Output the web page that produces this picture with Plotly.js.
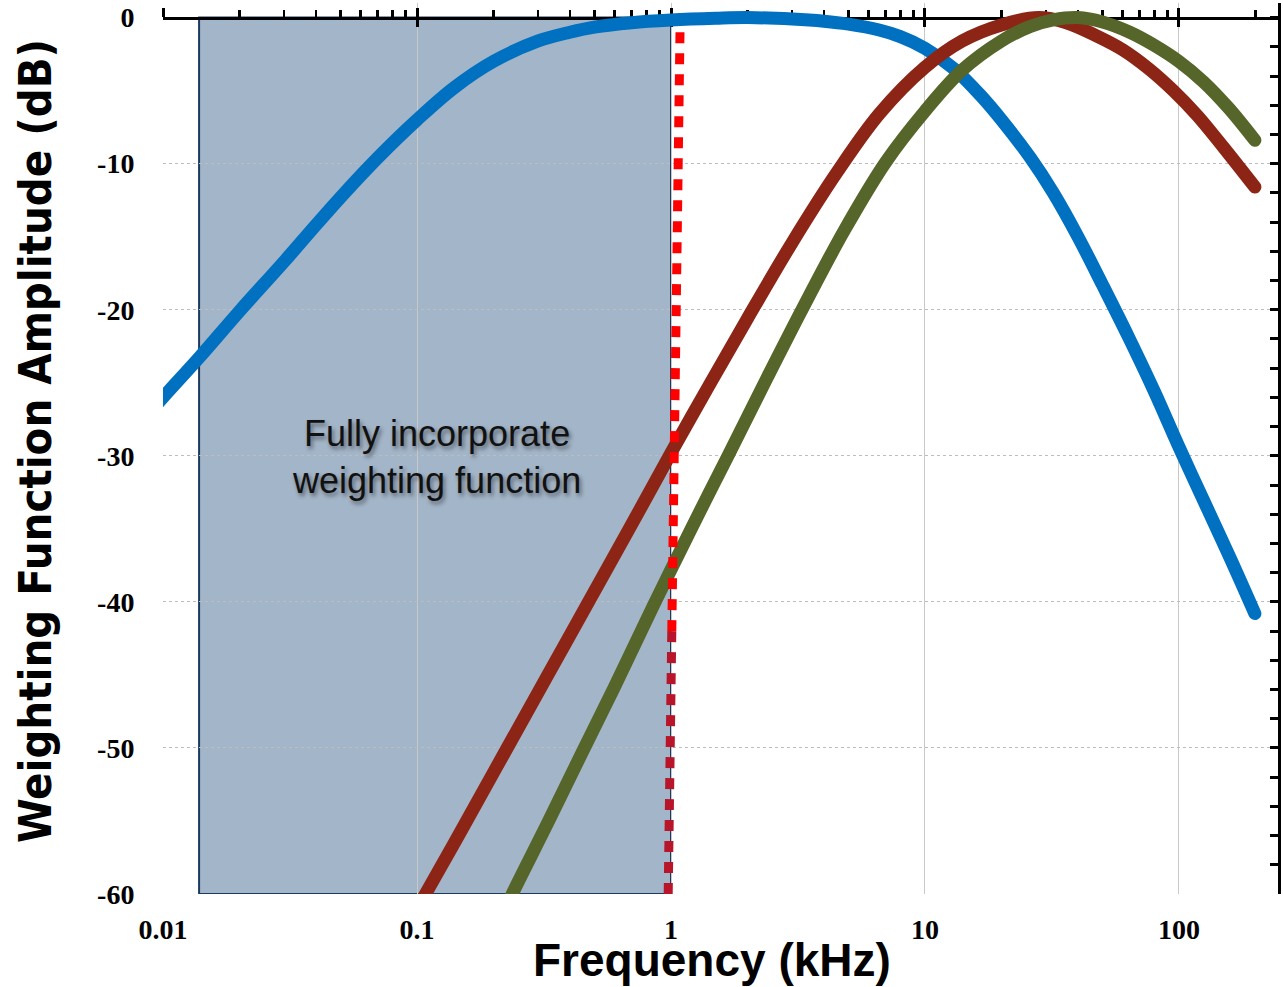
<!DOCTYPE html>
<html>
<head>
<meta charset="utf-8">
<script src="https://cdn.plot.ly/plotly-3.0.1.min.js"></script>
<style>
  html, body { margin: 0; padding: 0; background: #ffffff; }
  #chart { width: 1283px; height: 987px; }
</style>
</head>
<body>
<div id="chart"></div>
<script>
// ---------------- data ----------------
const freqBlue = [0.0089, 0.01, 0.014, 0.02, 0.03, 0.04, 0.05, 0.07, 0.1, 0.14, 0.2, 0.3, 0.4, 0.5, 0.7, 1.0, 1.5, 2.0, 3.0, 4.0, 5.0, 6.6, 8.0, 10, 13, 16.5, 20, 26, 32, 40, 50, 63, 80, 100, 130, 160, 199];
const dbBlue   = [-27.0, -26.0, -23.2, -20.1, -16.7, -14.2, -12.3, -9.6, -7.0, -4.8, -3.0, -1.6, -1.0, -0.65, -0.35, -0.17, -0.05, 0, -0.1, -0.25, -0.45, -0.85, -1.3, -2.1, -3.5, -5.3, -7.0, -9.6, -12.0, -15.0, -18.3, -21.8, -25.6, -29.4, -33.7, -37.1, -40.8];

const freqRed = [0.09, 0.108, 0.15, 0.22, 0.33, 0.47, 0.7, 1.0, 1.4, 2.0, 3.0, 4.5, 6.6, 10, 14, 20, 28, 36, 48, 60, 76, 95, 118, 150, 199];
const dbRed   = [-62.4, -60, -55.6, -50.4, -44.9, -40.1, -34.7, -29.8, -25.3, -20.6, -15.4, -10.6, -6.6, -3.4, -1.6, -0.5, 0, -0.35, -1.3, -2.2, -3.5, -5.0, -6.7, -8.9, -11.6];

const freqGreen = [0.2, 0.237, 0.33, 0.45, 0.6, 0.85, 1.0, 1.3, 1.7, 2.4, 3.3, 4.8, 7.0, 10, 14, 20, 26, 32, 40, 50, 64, 80, 100, 125, 157, 199];
const dbGreen   = [-62.7, -60, -55, -50.2, -45.8, -40.3, -37.8, -33.8, -29.8, -24.6, -19.9, -14.6, -9.9, -6.4, -3.6, -1.6, -0.6, -0.15, 0, -0.3, -1.0, -1.9, -3.0, -4.4, -6.2, -8.4];

const xTickVals  = [0.01, 0.1, 1, 10, 100];
const xTickText  = ['0.01', '0.1', '1', '10', '100'];
const yTickVals  = [0, -10, -20, -30, -40, -50, -60];
const yTickText  = ['0', '-10', '-20', '-30', '-40', '-50', '-60'];

const shadeStartKHz = 0.01387;
const shadeEndKHz   = 1.0;
const cutoffTopKHz    = 1.085;
const cutoffBottomKHz = 0.975;
const labelKHz = 0.1189;
const labelDb  = -30.1;

const xTitle = 'Frequency (kHz)';
const yTitle = 'Weighting Function Amplitude (dB)';
const boxLabel = 'Fully incorporate<br>weighting function';

// ---------------- layout helpers ----------------
const X_RANGE = [-2, 2.3898];
const Y_RANGE = [-60, 1];
const topPos = (0 - Y_RANGE[0]) / (Y_RANGE[1] - Y_RANGE[0]);

function cutoffX(db) {
  const lt = Math.log10(cutoffTopKHz), lb = Math.log10(cutoffBottomKHz);
  const f = (db - (-1)) / (-60 - (-1));
  return Math.pow(10, lt + (lb - lt) * f);
}

const curve = (x, y, color) => ({
  x: x, y: y, type: 'scatter', mode: 'lines',
  line: { color: color, width: 13, shape: 'spline', smoothing: 1.0 },
  hoverinfo: 'skip', showlegend: false
});

const traces = [
  curve(freqBlue, dbBlue, '#0070c0'),
  curve(freqRed, dbRed, '#8c2515'),
  curve(freqGreen, dbGreen, '#566529'),
  { x: [], y: [], xaxis: 'x2', yaxis: 'y', type: 'scatter', mode: 'lines', showlegend: false, hoverinfo: 'skip' },
  { x: [], y: [], xaxis: 'x3', yaxis: 'y', type: 'scatter', mode: 'lines', showlegend: false, hoverinfo: 'skip' },
  { x: [], y: [], xaxis: 'x', yaxis: 'y2', type: 'scatter', mode: 'lines', showlegend: false, hoverinfo: 'skip' }
];

const tickFont = { family: 'Liberation Serif, Times New Roman, serif', size: 28, color: '#000', weight: 'bold' };

const layout = {
  width: 1283, height: 987,
  margin: { l: 163, r: 5, t: 3, b: 93 },
  paper_bgcolor: '#ffffff',
  plot_bgcolor: '#ffffff',
  showlegend: false,
  xaxis: {
    type: 'log', range: X_RANGE,
    tickmode: 'array', tickvals: xTickVals, ticktext: xTickText,
    tickfont: tickFont,
    ticks: 'outside', ticklen: 10, tickcolor: 'rgba(0,0,0,0)',
    showline: false, zeroline: false,
    showgrid: true, gridcolor: '#c8c8c8', gridwidth: 1,
    fixedrange: true
  },
  xaxis2: {
    type: 'log', range: X_RANGE, overlaying: 'x', anchor: 'free', position: topPos, side: 'top',
    tick0: 0, dtick: 1, ticks: 'outside', ticklen: 9, tickwidth: 3, tickcolor: '#000',
    minor: { dtick: 'D1', ticks: 'outside', ticklen: 7, tickwidth: 2.5, tickcolor: '#000', showgrid: false },
    showticklabels: false, showgrid: false, zeroline: false,
    showline: true, linecolor: '#000', linewidth: 3.5,
    layer: 'below traces', fixedrange: true
  },
  xaxis3: {
    type: 'log', range: X_RANGE, overlaying: 'x', anchor: 'free', position: topPos, side: 'top',
    tick0: 0, dtick: 1, ticks: 'inside', ticklen: 8, tickwidth: 3, tickcolor: '#000',
    showticklabels: false, showgrid: false, zeroline: false, showline: false,
    layer: 'below traces', fixedrange: true
  },
  yaxis: {
    range: Y_RANGE,
    tickmode: 'array', tickvals: yTickVals, ticktext: yTickText,
    tickfont: tickFont,
    ticks: 'outside', ticklen: 22, tickcolor: 'rgba(0,0,0,0)',
    showline: false, zeroline: false,
    showgrid: true, gridcolor: '#bdbdbd', gridwidth: 1, griddash: 'dot',
    fixedrange: true
  },
  yaxis2: {
    range: Y_RANGE, overlaying: 'y', side: 'right', anchor: 'x',
    tick0: 0, dtick: 2, ticks: 'inside', ticklen: 8, tickwidth: 3, tickcolor: '#000',
    showticklabels: false, showgrid: false, zeroline: false,
    showline: true, linecolor: '#000', linewidth: 3,
    fixedrange: true
  },
  shapes: [
    {
      type: 'rect', xref: 'x', yref: 'y', layer: 'below',
      x0: shadeStartKHz, x1: shadeEndKHz, y0: -60, y1: 0,
      fillcolor: '#a3b5c8', line: { color: '#1a3b5f', width: 2 }
    },
    {
      type: 'line', xref: 'x', yref: 'y', layer: 'above',
      x0: cutoffX(-1), y0: -1, x1: cutoffX(-42), y1: -42,
      line: { color: '#ff0000', width: 9, dash: '11px,10px' }
    },
    {
      type: 'line', xref: 'x', yref: 'y', layer: 'above',
      x0: cutoffX(-42), y0: -42, x1: cutoffX(-60), y1: -60,
      line: { color: '#b8142a', width: 9, dash: '11px,10px' }
    }
  ],
  annotations: [
    {
      xref: 'x', yref: 'y', x: Math.log10(labelKHz), y: labelDb,
      text: boxLabel, showarrow: false, align: 'center',
      xanchor: 'center', yanchor: 'middle',
      font: { family: 'Liberation Sans, Arial, Helvetica, sans-serif', size: 36, color: '#111',
              shadow: '2px 3px 4px rgba(0,0,0,0.45)' }
    },
    {
      xref: 'paper', yref: 'paper', x: 0.4924, y: -0.0745,
      text: xTitle, showarrow: false, xanchor: 'center', yanchor: 'middle',
      font: { family: 'Liberation Sans, Arial, sans-serif', size: 46, color: '#000', weight: 'bold' }
    },
    {
      xref: 'paper', yref: 'paper', x: -0.1148, y: 0.5084, textangle: -90,
      text: yTitle, showarrow: false, xanchor: 'center', yanchor: 'middle',
      font: { family: 'Liberation Sans Narrow, Arial Narrow, DejaVu Sans Condensed, sans-serif', size: 45, color: '#000', weight: 'bold' }
    }
  ]
};

Plotly.newPlot('chart', traces, layout, { displayModeBar: false, staticPlot: true }).then(() => {
  document.querySelectorAll('.scatterlayer .js-line').forEach(p => { p.style.strokeLinecap = 'round'; });
});
</script>
</body>
</html>
